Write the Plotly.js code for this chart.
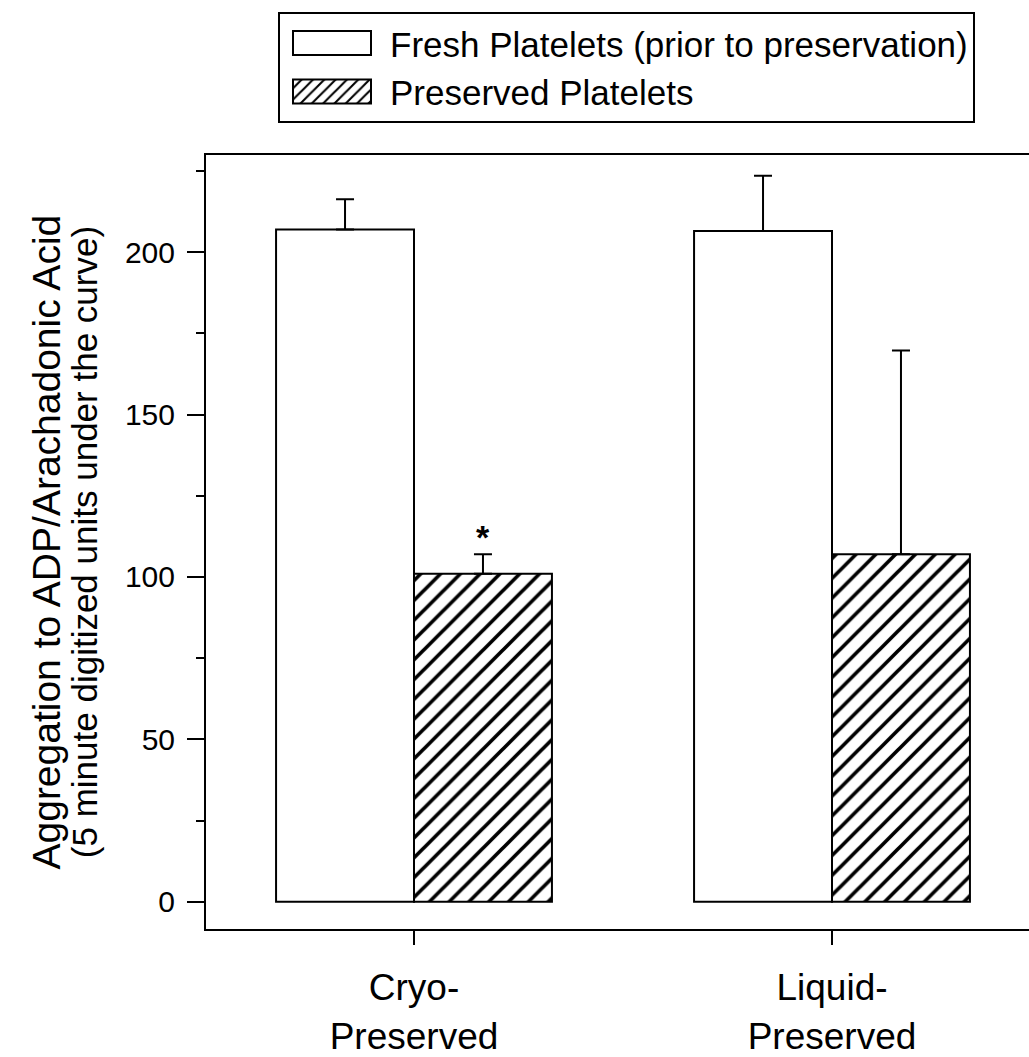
<!DOCTYPE html>
<html>
<head>
<meta charset="utf-8">
<script src="https://cdn.plot.ly/plotly-3.0.1.min.js"></script>
<style>
  html, body { margin: 0; padding: 0; background: #ffffff; }
  #chart { width: 1029px; height: 1057px; }
</style>
</head>
<body>
<div id="chart"></div>
<script>
// Platelet aggregation before and after preservation (mean + SE)
const categories = ['Cryo-<br>Preserved', 'Liquid-<br>Preserved'];
const seriesNames = ['Fresh Platelets (prior to preservation)', 'Preserved Platelets'];
const freshMean = [207, 206.5];
const freshErr = [9.3, 17];
const preservedMean = [101, 107];
const preservedErr = [6, 62.7];
const significance = ['*', ''];
const yTitleLines = ['Aggregation to ADP/Arachadonic Acid', '(5 minute digitized units under the curve)'];

const FONT = 'Liberation Sans, Arial, Helvetica, sans-serif';
const BAR_GAP = 0.34;

const barLine = { color: '#000000', width: 2 };
const errStyle = { type: 'data', symmetric: false, color: '#000000', thickness: 2, width: 9 };

const fresh = {
  type: 'bar',
  name: seriesNames[0],
  x: categories,
  y: freshMean,
  marker: { color: '#ffffff', line: barLine },
  error_y: Object.assign({}, errStyle, { array: freshErr, arrayminus: freshErr.map(() => 0) }),
  hoverinfo: 'skip'
};

const preserved = {
  type: 'bar',
  name: seriesNames[1],
  x: categories,
  y: preservedMean,
  marker: {
    color: '#ffffff',
    line: barLine,
    pattern: { shape: '/', fgcolor: '#000000', bgcolor: '#ffffff', size: 14, solidity: 0.26, fgopacity: 1 }
  },
  error_y: Object.assign({}, errStyle, { array: preservedErr, arrayminus: preservedErr.map(() => 0) }),
  hoverinfo: 'skip'
};

// significance markers sit above the preserved bar's error cap
const halfBar = (1 - BAR_GAP) / 4;
const sigNotes = significance.map((s, i) => ({
  text: '<b>' + s + '</b>',
  x: i + halfBar, xref: 'x',
  y: preservedMean[i] + preservedErr[i], yref: 'y',
  xanchor: 'center', yanchor: 'bottom',
  yshift: -4,
  showarrow: false,
  font: { family: FONT, size: 34, color: '#000000' }
})).filter(a => a.text !== '<b></b>');

// two-line vertical axis title, each line placed on its own
const titleSizes = [39, 35];
const titleX = [-0.195, -0.148];
const yTitleNotes = yTitleLines.map((t, i) => ({
  text: t,
  xref: 'paper', yref: 'paper',
  x: titleX[i], y: 0.5,
  xanchor: 'center', yanchor: 'middle',
  textangle: -90,
  showarrow: false,
  font: { family: FONT, size: titleSizes[i], color: '#000000' }
}));

const layout = {
  width: 1029,
  height: 1057,
  margin: { l: 206, r: 0, t: 155, b: 128, pad: 0 },
  paper_bgcolor: '#ffffff',
  plot_bgcolor: '#ffffff',
  font: { family: FONT, color: '#000000' },
  barmode: 'group',
  bargap: BAR_GAP,
  bargroupgap: 0,
  showlegend: true,
  legend: {
    x: 0.0875, y: 1.185, xanchor: 'left', yanchor: 'top',
    bgcolor: '#ffffff', bordercolor: '#000000', borderwidth: 2,
    font: { family: FONT, size: 35, color: '#000000' },
    itemwidth: 100,
    traceorder: 'normal'
  },
  xaxis: {
    type: 'category',
    range: [-0.4976, 1.4713],
    showline: true, linecolor: '#000000', linewidth: 2, mirror: true,
    ticks: 'outside', ticklen: 14, tickwidth: 2, tickcolor: '#000000',
    tickfont: { family: FONT, size: 37, color: '#000000' },
    ticklabelstandoff: 11,
    showgrid: false, zeroline: false, fixedrange: true
  },
  yaxis: {
    range: [-8.4, 229.9],
    tickmode: 'linear', tick0: 0, dtick: 50,
    ticks: 'outside', ticklen: 17, tickwidth: 2, tickcolor: '#000000',
    minor: { tickmode: 'linear', tick0: 0, dtick: 25, ticks: 'outside', ticklen: 8, tickwidth: 2, tickcolor: '#000000' },
    tickfont: { family: FONT, size: 30, color: '#000000' },
    ticklabelstandoff: 6,
    showline: true, linecolor: '#000000', linewidth: 2, mirror: false,
    showgrid: false, zeroline: false, fixedrange: true
  },
  annotations: sigNotes.concat(yTitleNotes)
};

Plotly.newPlot('chart', [fresh, preserved], layout, { staticPlot: true, displayModeBar: false }).then(gd => {
  // widen the legend swatches into long rectangles
  gd.querySelectorAll('g.legendpoints path').forEach(p => {
    p.setAttribute('d', 'M-42,12H36V-12H-42Z');
  });
});
</script>
</body>
</html>
